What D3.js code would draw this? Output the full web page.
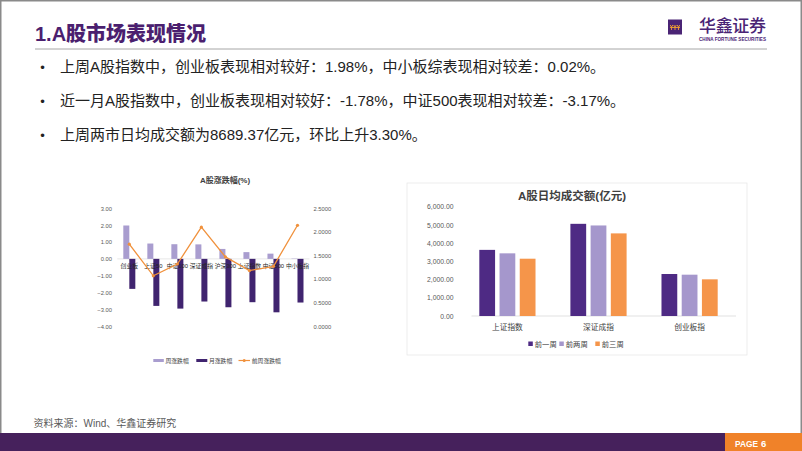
<!DOCTYPE html>
<html><head><meta charset="utf-8">
<script src="https://cdn.jsdelivr.net/npm/d3@7/dist/d3.min.js"></script>
<style>
html,body{margin:0;padding:0;background:#fff;}
svg{display:block;font-family:"Liberation Sans","Noto Sans CJK SC",sans-serif;}
</style></head>
<body>
<svg id="c" width="802" height="451"></svg>
<script>
// ---- data ----
const bullets = [
  "上周A股指数中，创业板表现相对较好：1.98%，中小板综表现相对较差：0.02%。",
  "近一月A股指数中，创业板表现相对较好：-1.78%，中证500表现相对较差：-3.17%。",
  "上周两市日均成交额为8689.37亿元，环比上升3.30%。"
];
const idxCats = ["创业板","上证50","中证100","深证成指","沪深300","上证指数","中证500","中小板指"];
const weekChg = [1.98, 0.91, 0.87, 0.86, 0.59, 0.40, 0.31, 0.02];
const monthChg = [-1.78, -2.79, -2.95, -2.53, -2.87, -2.57, -3.17, -2.59];
const prevWeekChg = [1.74, 1.07, 1.32, 2.10, 1.47, 1.18, 1.27, 2.14];
const leftTicks = [3, 2, 1, 0, -1, -2, -3, -4];
const rightTicks = [2.5, 2.0, 1.5, 1.0, 0.5, 0.0];
const leftSeries = ["周涨跌幅","月涨跌幅","前周涨跌幅"];

const volCats = ["上证指数","深证成指","创业板指"];
const volSeries = ["前一周","前两周","前三周"];
const vol1 = [3630, 5060, 2305];
const vol2 = [3440, 4970, 2268];
const vol3 = [3145, 4535, 2013];
const volTicks = [0, 1000, 2000, 3000, 4000, 5000, 6000];

// ---- styles ----
const PURPLE = "#4B1F6F", DARK = "#4E2A84", LIGHT = "#A597CC", ORANGE = "#F5954A";
const svg = d3.select("#c");

// frame
svg.append("rect").attr("x",0.75).attr("y",0.75).attr("width",800.5).attr("height",449.5)
  .attr("fill","none").attr("stroke","#8a8a8a").attr("stroke-width",1.5);

// header
svg.append("text").attr("x",35).attr("y",41).attr("font-size",20).attr("font-weight",900)
  .attr("fill",PURPLE).text("1.A股市场表现情况");
svg.append("line").attr("x1",35).attr("x2",767).attr("y1",49).attr("y2",49)
  .attr("stroke","#a6a6a6").attr("stroke-width",1);
// logo
svg.append("rect").attr("x",668).attr("y",19.5).attr("width",14).attr("height",15).attr("fill","#4A2475");
const logoG = svg.append("g").attr("stroke","#F0A030").attr("stroke-width",0.9).attr("fill","none");
[671.5, 675, 678.5].forEach(x=>{
  logoG.append("path").attr("d",`M${x-1.3},25 L${x},27 L${x+1.3},25 M${x},27 L${x},30`);
});
logoG.append("line").attr("x1",670).attr("x2",680).attr("y1",27.5).attr("y2",27.5);
svg.append("text").attr("x",699).attr("y",32).attr("font-size",17).attr("font-weight",500)
  .attr("fill","#4A2475").attr("textLength",67).text("华鑫证券");
svg.append("text").attr("x",699).attr("y",41).attr("font-size",4.6).attr("font-weight",700)
  .attr("fill","#4A2475").attr("textLength",67).text("CHINA FORTUNE SECURITIES");

// bullets
bullets.forEach((t,i)=>{
  const y = 71.5 + i*34;
  svg.append("text").attr("x",42.5).attr("y",y).attr("text-anchor","middle").attr("font-size",13).attr("fill","#222").text("•");
  svg.append("text").attr("x",60).attr("y",y).attr("font-size",15).attr("fill","#222").text(t);
});

// ---- left chart ----
const gL = svg.append("g");
const xL = d3.scaleBand().domain(idxCats).range([117.3, 309.5]).paddingInner(0.5).paddingOuter(0.25);
const subL = d3.scaleBand().domain(["w","m"]).range([0, xL.bandwidth()]);
const yL = d3.scaleLinear().domain([-4, 3]).range([326.3, 208.3]);
const yR = d3.scaleLinear().domain([0, 2.5]).range([326.3, 208.3]);

gL.append("text").attr("x",225).attr("y",183).attr("text-anchor","middle").attr("font-size",8)
  .attr("font-weight",700).attr("fill","#404040").text("A股涨跌幅(%)");

const axL = d3.axisLeft(yL).tickValues(leftTicks).tickSize(0).tickPadding(0).tickFormat(d3.format(".2f"));
const gax = gL.append("g").attr("transform","translate(112,0)").call(axL);
gax.select(".domain").remove();
gax.selectAll("text").attr("font-size",5.8).attr("fill","#595959").attr("font-family",null);

const axR = d3.axisRight(yR).tickValues(rightTicks).tickSize(0).tickPadding(0).tickFormat(d3.format(".4f"));
const gar = gL.append("g").attr("transform","translate(313.5,0)").call(axR);
gar.select(".domain").remove();
gar.selectAll("text").attr("font-size",5.8).attr("fill","#595959").attr("font-family",null);

gL.append("line").attr("x1",117.3).attr("x2",309.5).attr("y1",yL(0)).attr("y2",yL(0))
  .attr("stroke","#d9d9d9").attr("stroke-width",0.6);

gL.selectAll(".wb").data(idxCats).join("rect")
  .attr("x",d=>xL(d)+subL("w")).attr("width",subL.bandwidth())
  .attr("y",(d,i)=>yL(Math.max(0,weekChg[i]))).attr("height",(d,i)=>Math.abs(yL(weekChg[i])-yL(0)))
  .attr("fill","#A99DCF");
gL.selectAll(".mb").data(idxCats).join("rect")
  .attr("x",d=>xL(d)+subL("m")).attr("width",subL.bandwidth())
  .attr("y",(d,i)=>yL(Math.max(0,monthChg[i]))).attr("height",(d,i)=>Math.abs(yL(monthChg[i])-yL(0)))
  .attr("fill","#40246F");

// category labels
gL.selectAll(".cl").data(idxCats).join("text")
  .attr("x",d=>xL(d)+xL.bandwidth()/2).attr("y",268.3).attr("text-anchor","middle")
  .attr("font-size",5.8).attr("fill","#262626").text(d=>d);

// line
const lineGen = d3.line().x((d,i)=>xL(idxCats[i])+xL.bandwidth()/2).y(d=>yR(d));
gL.append("path").datum(prevWeekChg).attr("d",lineGen).attr("fill","none")
  .attr("stroke","#F0913C").attr("stroke-width",1.3);
gL.selectAll(".pt").data(prevWeekChg).join("circle")
  .attr("cx",(d,i)=>xL(idxCats[i])+xL.bandwidth()/2).attr("cy",d=>yR(d)).attr("r",1.6)
  .attr("fill","#F0913C");

// left legend
const legL = gL.append("g").attr("transform","translate(0,360.5)");
legL.append("rect").attr("x",153.3).attr("y",-1.5).attr("width",10.5).attr("height",3).attr("fill","#A99DCF");
legL.append("text").attr("x",165.5).attr("y",2.2).attr("font-size",5.8).attr("fill","#404040").text(leftSeries[0]);
legL.append("rect").attr("x",196.3).attr("y",-1.5).attr("width",11).attr("height",3).attr("fill","#40246F");
legL.append("text").attr("x",209).attr("y",2.2).attr("font-size",5.8).attr("fill","#404040").text(leftSeries[1]);
legL.append("line").attr("x1",238.5).attr("x2",250).attr("y1",0).attr("y2",0).attr("stroke","#F0913C").attr("stroke-width",1.2);
legL.append("circle").attr("cx",244.2).attr("cy",0).attr("r",1.5).attr("fill","#F0913C");
legL.append("text").attr("x",251.8).attr("y",2.2).attr("font-size",5.8).attr("fill","#404040").text(leftSeries[2]);

// ---- right chart ----
const gR = svg.append("g");
gR.append("rect").attr("x",407).attr("y",183).attr("width",340).attr("height",172)
  .attr("fill","none").attr("stroke","#e8e8e8").attr("stroke-width",0.8);
gR.append("text").attr("x",572).attr("y",199.5).attr("text-anchor","middle").attr("font-size",11.5)
  .attr("font-weight",700).attr("fill","#404040").text("A股日均成交额(亿元)");

const xB = d3.scaleBand().domain(volCats).range([462, 735]).paddingInner(0.383).paddingOuter(0.19);
const subB = d3.scaleBand().domain(volSeries).range([0, xB.bandwidth()]).paddingInner(0.22);
const yB = d3.scaleLinear().domain([0, 6000]).range([316, 206.7]);

const axB = d3.axisLeft(yB).tickValues(volTicks).tickSize(0).tickPadding(0).tickFormat(d3.format(",.2f"));
const gab = gR.append("g").attr("transform","translate(453.5,0)").call(axB);
gab.select(".domain").remove();
gab.selectAll("text").attr("font-size",6.8).attr("fill","#595959").attr("font-family",null);

gR.append("line").attr("x1",471.5).attr("x2",736).attr("y1",yB(0)).attr("y2",yB(0))
  .attr("stroke","#d9d9d9").attr("stroke-width",0.8);

const volData = [vol1, vol2, vol3];
const volColors = [DARK, LIGHT, ORANGE];
volSeries.forEach((s,si)=>{
  gR.selectAll(".vb"+si).data(volCats).join("rect")
    .attr("x",d=>xB(d)+subB(s)).attr("width",subB.bandwidth())
    .attr("y",(d,i)=>yB(volData[si][i])).attr("height",(d,i)=>yB(0)-yB(volData[si][i]))
    .attr("fill",volColors[si]);
});
gR.selectAll(".vl").data(volCats).join("text")
  .attr("x",d=>xB(d)+xB.bandwidth()/2).attr("y",330).attr("text-anchor","middle")
  .attr("font-size",7.7).attr("fill","#404040").text(d=>d);

const legPos = [528.3, 559.3, 595.3];
volSeries.forEach((s,si)=>{
  gR.append("rect").attr("x",legPos[si]).attr("y",341.5).attr("width",4.5).attr("height",4.5).attr("fill",volColors[si]);
  gR.append("text").attr("x",legPos[si]+6.5).attr("y",346.5).attr("font-size",7.3).attr("fill","#404040").text(s);
});

// ---- footer ----
svg.append("text").attr("x",33.5).attr("y",427).attr("font-size",10).attr("fill","#595959").text("资料来源：Wind、华鑫证券研究");
svg.append("rect").attr("x",0).attr("y",433).attr("width",725).attr("height",18).attr("fill","#46215C");
svg.append("rect").attr("x",725).attr("y",433).attr("width",77).attr("height",18).attr("fill","#F08229");
svg.append("text").attr("x",735).attr("y",446.5).attr("font-size",9.5).attr("font-weight",700)
  .attr("fill","#fff").attr("textLength",23).attr("lengthAdjust","spacingAndGlyphs").text("PAGE");
svg.append("text").attr("x",761).attr("y",446.5).attr("font-size",9.5).attr("font-weight",700)
  .attr("fill","#fff").text("6");
</script>
</body></html>
